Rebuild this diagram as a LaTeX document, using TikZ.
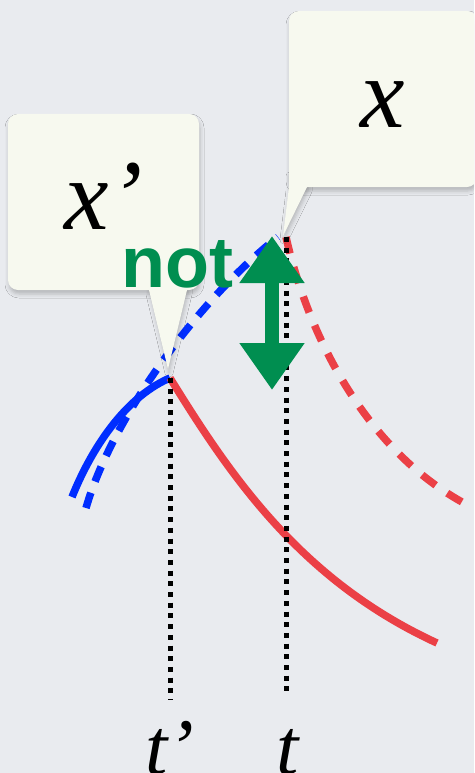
\documentclass[tikz,border=0pt]{standalone}
\usepackage{fontspec}
\setmainfont{Liberation Serif}
\newfontfamily\notfont{Liberation Sans}
\usetikzlibrary{arrows.meta,positioning,shadows.blur}
\definecolor{bggray}{RGB}{233,235,239}
\definecolor{callfill}{RGB}{247,249,239}
\definecolor{curveblue}{RGB}{0,45,255}
\definecolor{curvered}{RGB}{235,64,70}
\definecolor{notgreen}{RGB}{0,142,80}

\begin{document}
\begin{tikzpicture}[x=1pt, y=-1pt]
    \tikzstyle{callbox}=[fill=callfill, rounded corners=10pt, inner sep=0pt, text depth=0pt, font=\fontsize{100}{100}\selectfont\itshape, blur shadow={shadow xshift=1pt, shadow yshift=-4pt, shadow blur radius=4pt, shadow opacity=22}]
    \tikzstyle{tailshade}=[blur shadow={shadow xshift=1pt, shadow yshift=-4pt, shadow blur radius=4pt, shadow opacity=22}]
    \tikzstyle{trend}=[line width=7.5pt]
    \tikzstyle{guide}=[black, line width=5pt, dash pattern=on 5pt off 5.7pt]
    \tikzstyle{stamp}=[font=\fontsize{80}{80}\selectfont\itshape, inner sep=0pt]
    \tikzstyle{notarrow}=[notgreen, line width=14pt, {Triangle[width=62pt,length=47pt]}-{Triangle[width=62pt,length=47pt]}]

    \useasboundingbox (0,0) rectangle (474,773);
    \clip (0,0) rectangle (474,773);
    \fill[bggray] (0,0) rectangle (474,773);

    % peaks and feet of the guides
    \coordinate (peakp) at (170,378);
    \coordinate (peak) at (286,237);
    \coordinate (footp) at (170,700);
    \coordinate (foot) at (286,694);

    % curves
    \draw[trend, curveblue] (72,497) .. controls (95,440) and (130,395) .. (peakp);
    \draw[trend, curveblue, dash pattern=on 16pt off 12pt] (86,508) .. controls (112,418) and (198,300) .. (278,237);
    \draw[trend, curvered] (peakp) .. controls (230,475) and (300,580) .. (437,643);
    \draw[trend, curvered, dash pattern=on 17pt off 14pt] (peak) .. controls (308,335) and (365,448) .. (462,502);

    \draw[guide] (peakp) -- (footp);
    \draw[guide] (peak) -- (foot);

    % callouts
    \path[tailshade] (149,280) -- (187,280) -- (187,290) -- (168,369) -- (149,290) -- cycle;
    \node[callbox, minimum width=191pt, minimum height=176pt, text height=54pt] (xpbox) at (103.5,202) {x’};
    \fill[callfill] (149,280) -- (187,280) -- (187,290) -- (168,369) -- (149,290) -- cycle;
    \path[tailshade] (289,172) -- (307,172) -- (307,187) -- (283,236) -- (289,187) -- cycle;
    \node[callbox, minimum width=188pt, minimum height=176pt, text height=58pt] (xbox) at (383,99) {x};
    \fill[callfill] (289,172) -- (307,172) -- (307,187) -- (283,236) -- (289,187) -- cycle;

    \node[anchor=base west, inner sep=0pt, text=notgreen, font=\notfont\bfseries\fontsize{72}{72}\selectfont] (nottext) at (121,287) {not};
    \coordinate (arrlo) at (272,390);
    \coordinate (arrhi) at (272,236);
    \draw[notarrow] (arrlo) -- (arrhi);

    \node[stamp, anchor=base] (tplabel) at (170,774) {t’};
    \node[stamp, anchor=base] (tlabel) at (288,774) {t};
\end{tikzpicture}
\end{document}
